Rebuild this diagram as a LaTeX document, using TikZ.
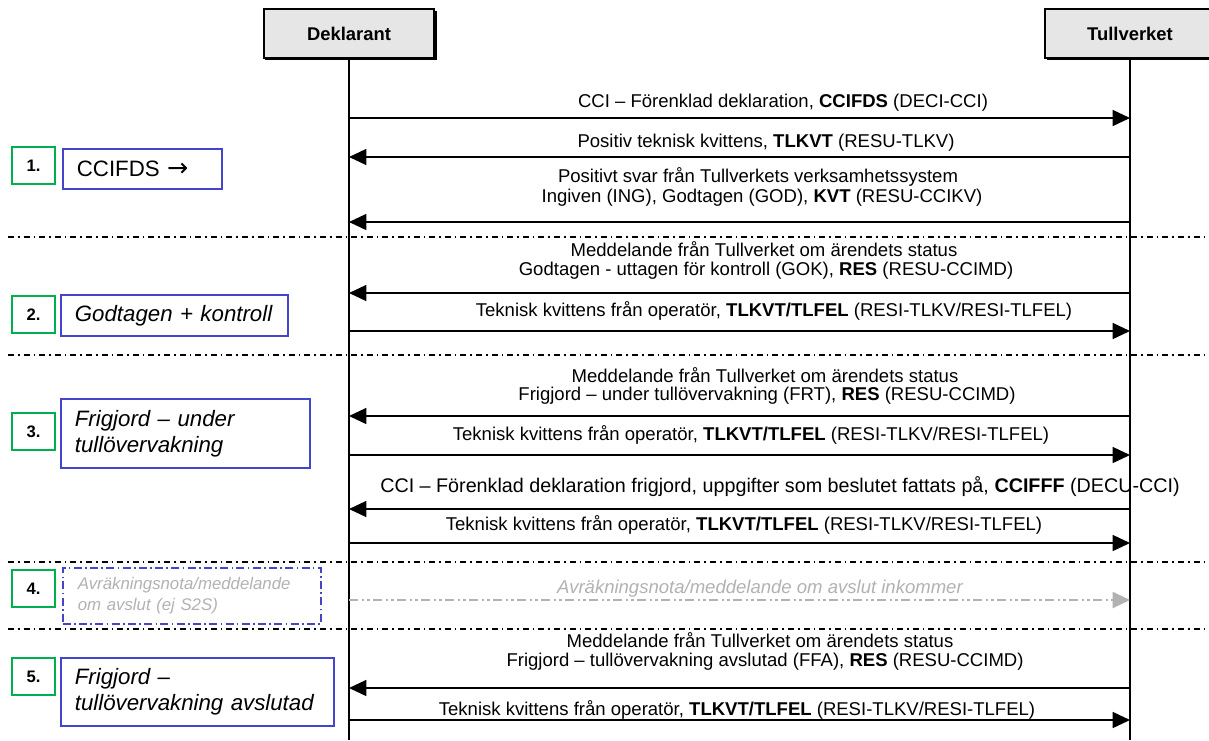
\documentclass[tikz,border=0pt]{standalone}
\usepackage{fontspec}
\setmainfont{Liberation Sans}
\newfontfamily\arrowfont{DejaVu Sans}
\usetikzlibrary{arrows.meta}
\definecolor{stepgreen}{RGB}{0,176,80}
\definecolor{stepblue}{RGB}{68,68,204}
\definecolor{hdrfill}{RGB}{230,230,230}
\definecolor{ghost}{RGB}{178,178,178}
\tikzset{
  hdr/.style={draw=black, line width=2pt, fill=hdrfill, minimum width=127.5pt, minimum height=36.75pt, inner sep=0pt, font=\fontsize{13.8}{16}\selectfont\bfseries},
  life/.style={line width=1.1pt},
  msg/.style={line width=1.1pt, -{Triangle[length=13pt,width=12pt]}},
  ghostmsg/.style={line width=1.5pt, ghost, dash pattern=on 7pt off 2.5pt on 2pt off 2pt on 2pt off 2.5pt, -{Triangle[length=13pt,width=12pt]}},
  lbl/.style={inner sep=0pt, font=\fontsize{13.9}{16}\selectfont},
  sep/.style={line width=1.1pt, dash pattern=on 4.5pt off 3pt on 1.2pt off 3pt},
  numbox/.style={draw=stepgreen, line width=1.5pt, minimum width=32.25pt, minimum height=27.75pt, inner sep=0pt, font=\fontsize{12.5}{14}\selectfont\bfseries},
  stepbox/.style={draw=stepblue, line width=1.3pt, anchor=north west, inner xsep=10.5pt, inner ysep=0pt, align=left, font=\fontsize{16.7}{19.5}\selectfont\itshape},
}
\begin{document}
\begin{tikzpicture}[x=0.75pt, y=-0.75pt]
\useasboundingbox (0,0) rectangle (1209,740);
\fill[white] (0,0) rectangle (1209,740);

% headers
\fill[black] (265,11) rectangle (437,60);
\node[hdr] (dek) at (349,33.5) {Deklarant};
\fill[black] (1047,11) rectangle (1217,60);
\node[hdr] (tull) at (1130,33.5) {Tullverket};

% lifelines
\coordinate (dend) at (349,740);
\coordinate (tend) at (1130,740);
\draw[life] (dek.south) -- (dend);
\draw[life] (tull.south) -- (tend);

% separators
\foreach \y/\n in {237/sa,355/sb,562/sc,629/sd}{
  \coordinate (\n l) at (8,\y);
  \coordinate (\n r) at (1209,\y);
  \draw[sep] (\n l) -- (\n r);
}

% message coordinates
\foreach \y/\n in {118/1,157/2,222/3,293/4,331/5,416/6,455/7,509/8,543/9,600/10,688/11,720/12}{
  \coordinate (d\n) at (349,\y);
  \coordinate (t\n) at (1130,\y);
}

% messages
\draw[msg] (d1) -- (t1);
\draw[msg] (t2) -- (d2);
\draw[msg] (t3) -- (d3);
\draw[msg] (t4) -- (d4);
\draw[msg] (d5) -- (t5);
\draw[msg] (t6) -- (d6);
\draw[msg] (d7) -- (t7);
\draw[msg] (t8) -- (d8);
\draw[msg] (d9) -- (t9);
\draw[ghostmsg] (d10) -- (t10);
\draw[msg] (t11) -- (d11);
\draw[msg] (d12) -- (t12);

% labels
\node[lbl] (l1) at (783,103) {CCI – Förenklad deklaration, \textbf{CCIFDS} (DECI-CCI)};
\node[lbl] (l2) at (766,143) {Positiv teknisk kvittens, \textbf{TLKVT} (RESU-TLKV)};
\node[lbl] (l3a) at (758,177) {Positivt svar från Tullverkets verksamhetssystem};
\node[lbl] (l3b) at (762,198) {Ingiven (ING), Godtagen (GOD), \textbf{KVT} (RESU-CCIKV)};
\node[lbl] (l4a) at (764,249) {Meddelande från Tullverket om ärendets status};
\node[lbl] (l4b) at (766,271) {Godtagen - uttagen för kontroll (GOK), \textbf{RES} (RESU-CCIMD)};
\node[lbl] (l5) at (774,311) {Teknisk kvittens från operatör, \textbf{TLKVT/TLFEL} (RESI-TLKV/RESI-TLFEL)};
\node[lbl] (l6a) at (765,375) {Meddelande från Tullverket om ärendets status};
\node[lbl] (l6b) at (767,396) {Frigjord – under tullövervakning (FRT), \textbf{RES} (RESU-CCIMD)};
\node[lbl] (l7) at (751,435) {Teknisk kvittens från operatör, \textbf{TLKVT/TLFEL} (RESI-TLKV/RESI-TLFEL)};
\node[lbl, font=\fontsize{14.8}{16}\selectfont] (l8) at (780,487) {CCI – Förenklad deklaration frigjord, uppgifter som beslutet fattats på, \textbf{CCIFFF} (DECU-CCI)};
\node[lbl] (l9) at (744,525) {Teknisk kvittens från operatör, \textbf{TLKVT/TLFEL} (RESI-TLKV/RESI-TLFEL)};
\node[lbl, text=ghost, font=\fontsize{13.9}{16}\selectfont\itshape] (l10) at (760,589) {Avräkningsnota/meddelande om avslut inkommer};
\node[lbl] (l11a) at (760,640) {Meddelande från Tullverket om ärendets status};
\node[lbl] (l11b) at (765,662) {Frigjord – tullövervakning avslutad (FFA), \textbf{RES} (RESU-CCIMD)};
\node[lbl] (l12) at (737,710) {Teknisk kvittens från operatör, \textbf{TLKVT/TLFEL} (RESI-TLKV/RESI-TLFEL)};

% step numbers
\node[numbox] (n1) at (33.5,165.5) {1.};
\node[numbox] (n2) at (33.5,314.5) {2.};
\node[numbox] (n3) at (33.5,431.5) {3.};
\node[numbox] (n4) at (33.5,588.5) {4.};
\node[numbox] (n5) at (33.5,676.5) {5.};

% step boxes
\node[stepbox, text width=98.25pt, minimum height=30pt, font=\fontsize{16.7}{19.5}\selectfont] (s1) at (62,148) {CCIFDS {\arrowfont\fontsize{19}{19.5}\selectfont →}};
\node[stepbox, text width=149.25pt, minimum height=30.75pt] (s2) at (60,294) {Godtagen + kontroll};
\node[stepbox, text width=165.75pt, minimum height=51.75pt] (s3) at (60,398) {Frigjord – under\\tullövervakning};
\node[stepbox, dash pattern=on 6pt off 2.5pt on 1.2pt off 2.5pt, text=ghost, text width=171pt, minimum height=42pt, inner xsep=11.25pt, font=\fontsize{12.6}{15.5}\selectfont\itshape] (s4) at (62,567) {Avräkningsnota/meddelande\\om avslut (ej S2S)};
\node[stepbox, text width=183.75pt, minimum height=51pt] (s5) at (60,657) {Frigjord –\\tullövervakning avslutad};
\end{tikzpicture}
\end{document}
